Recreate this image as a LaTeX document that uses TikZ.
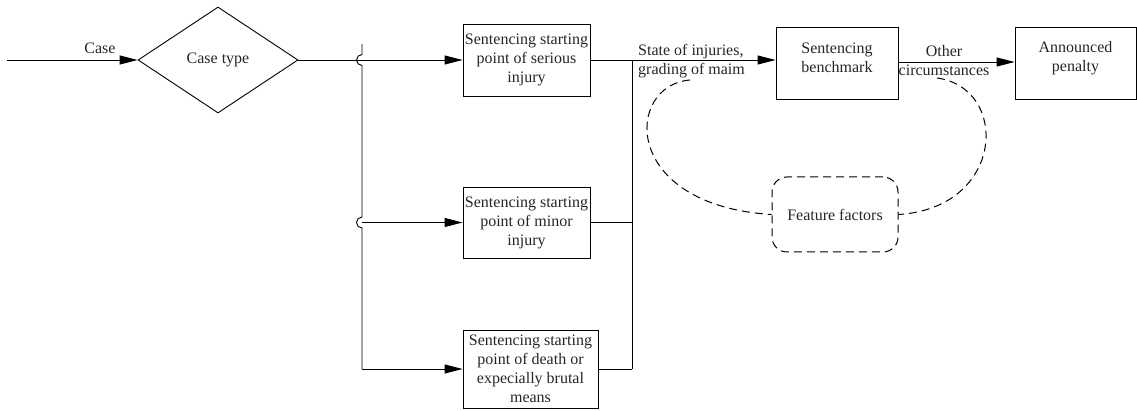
\documentclass[tikz,border=0pt]{standalone}
\usepackage{fontspec}
\setmainfont{Liberation Serif}
\usetikzlibrary{arrows.meta,shapes.geometric}
\begin{document}
\begin{tikzpicture}[x=1pt,y=1pt,
  every node/.style={font=\fontsize{16}{19}\selectfont, text=black!85},
  ln/.style={line width=0.9pt, draw=black},
  arr/.style={ln, -{Triangle[length=18pt,width=9pt]}},
  box/.style={draw=black, line width=0.9pt, align=center, inner xsep=1pt, inner ysep=1pt},
  dsh/.style={draw=black, line width=1pt, dash pattern=on 8pt off 5pt},
  lbl/.style={inner sep=0pt, align=center}]
\useasboundingbox (0,0) rectangle (1137,-411);

% nodes
\node[draw, ln, diamond, minimum width=160pt, minimum height=106pt, inner sep=0pt] (dia) at (218,-60) {Case type};
\node[box, minimum width=127pt, minimum height=72pt] (b1) at (526.5,-60) {Sentencing starting\\point of serious\\injury};
\node[box, minimum width=127pt, minimum height=71pt] (b2) at (526.5,-222.5) {Sentencing starting\\point of minor\\injury};
\node[box, minimum width=135pt, minimum height=78pt] (b3) at (530.5,-369) {Sentencing starting\\point of death or\\expecially brutal\\means};
\node[box, minimum width=122pt, minimum height=72pt,
  label={[name=benchtxt, align=center, yshift=5pt]center:Sentencing\\benchmark}] (bench) at (837,-63) {};
\node[box, minimum width=121pt, minimum height=72pt,
  label={[name=anntxt, align=center, yshift=5pt]center:Announced\\penalty}] (ann) at (1075.5,-63) {};
\node[box, dsh, rounded corners=15pt, minimum width=126pt, minimum height=75pt] (ff) at (835,-214.5) {Feature factors};

% labels
\node[lbl] (caselbl) at (100,-48) {Case};
\node[lbl, anchor=west, align=left] (stlbl) at (638,-61) {State of injuries,\\grading of maim};
\node[lbl] (oclbl) at (944,-61) {Other\\circumstances};

% coordinates
\coordinate (start) at (7,-60);
\coordinate (hopT) at (362,-44);
\coordinate (hopM) at (362,-222.5);
\coordinate (hopB) at (362,-369);
\coordinate (busT) at (632,-60);
\coordinate (busB) at (632,-369);
\coordinate (dl) at (690,-80);
\coordinate (dr) at (937,-78);

% connectors
\draw[arr] (start) -- (dia.west);
\draw[arr] (dia.east) -- (b1.west);
\draw[ln] (hopT) -- ++(0,-10.5) arc[start angle=90, end angle=270, radius=5.5pt]
  -- ([yshift=5.5pt]hopM) arc[start angle=90, end angle=270, radius=5.5pt]
  -- (hopB);
\draw[arr] (hopM) -- (b2.west);
\draw[arr] (hopB) -- (b3.west);
\draw[arr] (b1.east) -- (b1.east -| bench.west);
\draw[ln] (busT) -- (busB);
\draw[ln] (b2.east) -- (b2.east -| busT);
\draw[ln] (b3.east) -- (busB);
\draw[arr] ([yshift=1pt]bench.east) -- ([yshift=1pt]bench.east -| ann.west);

% dashed loops
\draw[dsh] (dl) .. controls (625,-85) and (620,-205) .. (ff.west);
\draw[dsh] (dr) .. controls (1010,-88) and (1005,-208) .. (ff.east);
\end{tikzpicture}
\end{document}
